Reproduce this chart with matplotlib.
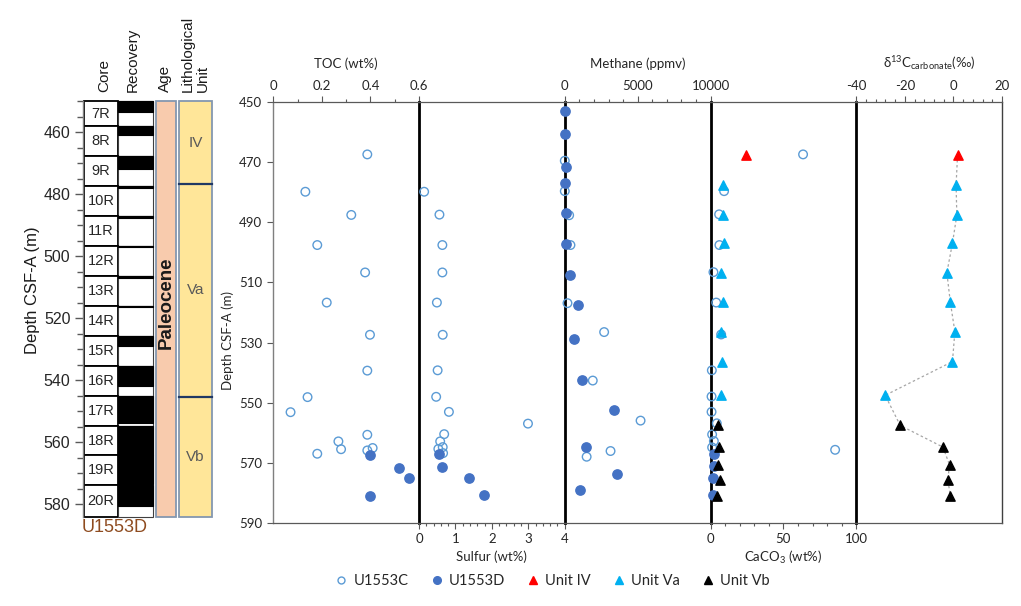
import matplotlib
matplotlib.use('Agg')
import matplotlib.pyplot as plt
from matplotlib.ticker import MultipleLocator, FixedLocator, FuncFormatter
from matplotlib.patches import Rectangle
from matplotlib.lines import Line2D

plt.rcParams['font.family'] = ['Lato', 'DejaVu Sans']
plt.rcParams['mathtext.fontset'] = 'custom'
plt.rcParams['mathtext.rm'] = 'Lato'
plt.rcParams['mathtext.it'] = 'Lato:italic'

# ---------------- data ----------------
# U1553C (open circles)
toc_c_depth = [467.5, 479.9, 487.6, 497.6, 506.7, 516.7, 527.4, 539.3, 548.1, 553.1,
               560.6, 562.8, 565.4, 565.0, 565.8, 566.9]
toc_c = [0.387, 0.132, 0.321, 0.181, 0.378, 0.22, 0.398, 0.387, 0.141, 0.071,
         0.387, 0.268, 0.279, 0.409, 0.387, 0.181]

sulfur_c_depth = [479.9, 487.5, 497.6, 506.7, 516.7, 527.4, 539.2, 548.0, 553.0, 556.9,
                  560.4, 562.8, 564.7, 565.3, 566.7]
sulfur_c = [0.14, 0.56, 0.64, 0.64, 0.49, 0.65, 0.51, 0.47, 0.82, 2.99,
            0.69, 0.58, 0.65, 0.53, 0.66]

methane_c_depth = [469.6, 479.7, 487.7, 497.6, 516.9, 526.5, 542.6, 555.9, 566.0, 567.9]
methane_c = [0, 0, 300, 390, 185, 2700, 1920, 5200, 3140, 1500]

caco3_c_depth = [467.5, 479.7, 487.4, 497.6, 506.6, 516.7, 527.3, 539.2, 547.9, 553.0,
                 556.8, 560.5, 562.7, 564.8, 565.6]
caco3_c = [63.5, 9.3, 5.9, 6.1, 2.0, 3.9, 7.3, 0.9, 0.7, 0.7,
           4.3, 1.1, 2.3, 1.1, 85.5]

# U1553D (filled circles)
toc_d_depth = [567.2, 571.8, 575.1, 580.9]
toc_d = [0.398, 0.518, 0.557, 0.398]

sulfur_d_depth = [566.9, 571.4, 575.1, 580.6]
sulfur_d = [0.56, 0.62, 1.38, 1.79]

methane_d_depth = [453.1, 460.6, 471.7, 477.1, 486.8, 497.2, 507.5, 517.4, 528.7, 542.5,
                   552.4, 564.8, 573.6, 579.0]
methane_d = [0, 0, 50, 0, 115, 70, 390, 880, 600, 1180, 3350, 1430, 3600, 1020]

caco3_d_depth = [566.9, 571.1, 574.9, 580.6]
caco3_d = [2.7, 2.3, 2.0, 1.6]

# carbonate samples coloured by lithological unit
carb_depth = [467.7, 477.7, 487.7, 497.0, 506.8, 516.4, 526.4, 536.3, 547.5,
              557.5, 564.7, 570.6, 575.5, 580.8]
carb_unit = ['IV', 'Va', 'Va', 'Va', 'Va', 'Va', 'Va', 'Va', 'Va',
             'Vb', 'Vb', 'Vb', 'Vb', 'Vb']
carb_caco3 = [24.5, 8.6, 8.6, 9.1, 7.5, 8.6, 7.5, 7.9, 7.5, 5.0, 6.1, 4.8, 6.3, 4.5]
carb_d13c = [1.7, 1.1, 1.4, -0.4, -2.7, -1.3, 0.6, -0.4, -28.1, -21.9, -4.3, -1.6, -2.3, -1.3]

# core log
core_names = ['7R', '8R', '9R', '10R', '11R', '12R', '13R', '14R', '15R', '16R',
              '17R', '18R', '19R', '20R']
core_tops = [450.0, 458.1, 467.75, 477.4, 487.05, 496.7, 506.35, 516.0, 525.65, 535.3,
             544.95, 554.6, 564.25, 573.9]
core_bottoms = core_tops[1:] + [584.0]
recovered_bottom = [453.6, 460.9, 471.9, 478.1, 487.7, 497.0, 506.9, 516.5, 528.9, 542.0,
                    553.8, 564.25, 573.3, 580.5]

lith_units = ['IV', 'Va', 'Vb']
lith_tops = [450.0, 476.7, 545.3]
lith_bottoms = [476.7, 545.3, 584.0]
age_label = 'Paleocene'
site_label = 'U1553D'

unit_colors = {'IV': '#FF0000', 'Va': '#00B0F0', 'Vb': '#000000'}
open_col = '#5B9BD5'
fill_col = '#4472C4'
txt_col = '#262626'

# ---------------- figure ----------------
W_PX, H_PX = 1021, 606
fig = plt.figure(figsize=(W_PX / 100, H_PX / 100), dpi=100)


def fx(px):
    return px / W_PX


def fy(py):
    return 1 - py / H_PX


left_px, right_px, top_px, bot_px = 273.3, 1002.0, 101.7, 523.3
pw = (right_px - left_px) / 5

axes = []
for i in range(5):
    ax = fig.add_axes([fx(left_px + i * pw), fy(bot_px), pw / W_PX, (bot_px - top_px) / H_PX],
                      sharey=axes[0] if axes else None)
    ax.set_facecolor('none')
    axes.append(ax)

ax_toc, ax_s, ax_m, ax_c, ax_d = axes

for i, ax in enumerate(axes):
    for side in ('top', 'bottom'):
        ax.spines[side].set_color('#595959')
        ax.spines[side].set_linewidth(0.9)
    ax.spines['left'].set_visible(False)
    if i < 4:
        ax.spines['right'].set_color('black')
        ax.spines['right'].set_linewidth(2.0)
    else:
        ax.spines['right'].set_color('#404040')
        ax.spines['right'].set_linewidth(1.0)
    ax.tick_params(axis='y', left=False, labelleft=False, right=False)
    ax.tick_params(axis='x', which='major', length=4, width=0.8, color='#595959',
                   labelsize=9.5, labelcolor=txt_col, pad=3)
    ax.tick_params(axis='x', which='minor', length=2.5, width=0.8, color='#595959')

ax_toc.set_ylim(590, 450)
ax_toc.spines['left'].set_visible(True)
ax_toc.spines['left'].set_color('#7F7F7F')
ax_toc.spines['left'].set_linewidth(1.0)
ax_toc.yaxis.set_major_locator(FixedLocator(list(range(450, 591, 20))))
ax_toc.tick_params(axis='y', left=True, labelleft=True, length=4, width=0.8,
                   color='#595959', labelsize=9.5, labelcolor=txt_col, pad=4)

gfmt = FuncFormatter(lambda v, p: '%g' % v)

# TOC (top)
ax_toc.set_xlim(0, 0.6)
ax_toc.xaxis.tick_top()
ax_toc.xaxis.set_major_locator(FixedLocator([0, 0.2, 0.4, 0.6]))
ax_toc.xaxis.set_minor_locator(MultipleLocator(0.1))
ax_toc.xaxis.set_major_formatter(gfmt)
# Sulfur (bottom)
ax_s.set_xlim(0, 4)
ax_s.xaxis.tick_bottom()
ax_s.xaxis.set_major_locator(MultipleLocator(1))
ax_s.xaxis.set_minor_locator(MultipleLocator(0.2))
ax_s.xaxis.set_major_formatter(gfmt)
# Methane (top)
ax_m.set_xlim(0, 10000)
ax_m.xaxis.tick_top()
ax_m.xaxis.set_major_locator(MultipleLocator(5000))
ax_m.xaxis.set_minor_locator(MultipleLocator(1000))
ax_m.xaxis.set_major_formatter(gfmt)
# CaCO3 (bottom)
ax_c.set_xlim(0, 100)
ax_c.xaxis.tick_bottom()
ax_c.xaxis.set_major_locator(MultipleLocator(50))
ax_c.xaxis.set_minor_locator(MultipleLocator(10))
ax_c.xaxis.set_major_formatter(gfmt)
# d13C (top)
ax_d.set_xlim(-40, 20)
ax_d.xaxis.tick_top()
ax_d.xaxis.set_major_locator(MultipleLocator(20))
ax_d.xaxis.set_minor_locator(MultipleLocator(4))
ax_d.xaxis.set_major_formatter(gfmt)

# titles
ttl_kw = dict(ha='center', va='center', fontsize=9.5, color=txt_col)
fig.text(fx(left_px + 0.5 * pw), fy(64), 'TOC (wt%)', **ttl_kw)
fig.text(fx(left_px + 2.5 * pw), fy(64), 'Methane (ppmv)', **ttl_kw)
fig.text(fx(left_px + 4.5 * pw), fy(63),
         'δ$^{13}$C$_{\\mathrm{carbonate}}$(‰)', **ttl_kw)
fig.text(fx(left_px + 1.5 * pw), fy(557), 'Sulfur (wt%)', **ttl_kw)
fig.text(fx(left_px + 3.5 * pw), fy(557), 'CaCO$_3$ (wt%)', **ttl_kw)
fig.text(fx(228), fy(340), 'Depth CSF-A (m)', rotation=90, **ttl_kw)

# data marks
ok = dict(s=38, marker='o', facecolors='none', edgecolors=open_col, linewidths=1.0,
          clip_on=False, zorder=3)
fk = dict(s=45, marker='o', color=fill_col, edgecolors=fill_col, clip_on=False, zorder=4)

ax_toc.scatter(toc_c, toc_c_depth, **ok)
ax_toc.scatter(toc_d, toc_d_depth, **fk)
ax_s.scatter(sulfur_c, sulfur_c_depth, **ok)
ax_s.scatter(sulfur_d, sulfur_d_depth, **fk)
ax_m.scatter(methane_c, methane_c_depth, **ok)
ax_m.scatter(methane_d, methane_d_depth, **fk)
ax_c.scatter(caco3_c, caco3_c_depth, **ok)
ax_c.scatter(caco3_d, caco3_d_depth, **fk)

ax_d.plot(carb_d13c, carb_depth, ls=(0, (2, 2)), color='#A6A6A6', lw=0.9, zorder=2)
for u in ['IV', 'Va', 'Vb']:
    idx = [k for k, uu in enumerate(carb_unit) if uu == u]
    ax_c.scatter([carb_caco3[k] for k in idx], [carb_depth[k] for k in idx], s=45, marker='^',
                 color=unit_colors[u], clip_on=False, zorder=5)
    ax_d.scatter([carb_d13c[k] for k in idx], [carb_depth[k] for k in idx], s=45, marker='^',
                 color=unit_colors[u], clip_on=False, zorder=5)

# legend
handles = [
    Line2D([], [], ls='none', marker='o', ms=5, mfc='none', mec=open_col, mew=1.0),
    Line2D([], [], ls='none', marker='o', ms=5.5, mfc=fill_col, mec=fill_col),
    Line2D([], [], ls='none', marker='^', ms=6, mfc=unit_colors['IV'], mec=unit_colors['IV']),
    Line2D([], [], ls='none', marker='^', ms=6, mfc=unit_colors['Va'], mec=unit_colors['Va']),
    Line2D([], [], ls='none', marker='^', ms=6, mfc=unit_colors['Vb'], mec=unit_colors['Vb']),
]
labels = ['U1553C', 'U1553D', 'Unit IV', 'Unit Va', 'Unit Vb']
fig.legend(handles, labels, loc='center', bbox_to_anchor=(fx(552), fy(581)), ncol=5,
           frameon=False, fontsize=10.5, handletextpad=0.35, columnspacing=1.4,
           handlelength=1.0, labelcolor=txt_col)

# ---------------- core log ----------------
log_l, log_r, log_t, log_b = 83.0, 213.0, 101.3, 516.7
axL = fig.add_axes([fx(log_l), fy(log_b), (log_r - log_l) / W_PX, (log_b - log_t) / H_PX])
axL.set_xlim(0, log_r - log_l)
axL.set_ylim(584.0, 450.0)
axL.set_facecolor('none')
for side in ('top', 'bottom', 'right'):
    axL.spines[side].set_visible(False)
axL.spines['left'].set_color('#7F7F7F')
axL.spines['left'].set_linewidth(1.0)
axL.set_xticks([])
axL.yaxis.set_major_locator(FixedLocator(list(range(460, 581, 20))))
axL.yaxis.set_minor_locator(MultipleLocator(5))
arial = ['Liberation Sans', 'DejaVu Sans']
axL.tick_params(axis='y', which='major', length=6, width=1.0, color='#595959', pad=3,
                labelsize=11.5, labelcolor=txt_col)
axL.tick_params(axis='y', which='minor', length=4, width=1.0, color='#595959')
for lab in axL.get_yticklabels():
    lab.set_family(arial)

core_x0, core_w = 1.0, 34.0
rec_x0, rec_w = 35.0, 35.0
age_x0, age_w = 73.0, 20.0
lith_x0, lith_w = 96.0, 33.0

for name, t, b, rb in zip(core_names, core_tops, core_bottoms, recovered_bottom):
    axL.add_patch(Rectangle((core_x0, t), core_w, b - t, fc='white', ec='black', lw=1.3,
                            clip_on=False, zorder=2))
    axL.text(core_x0 + core_w / 2, (t + b) / 2, name, ha='center', va='center',
             fontsize=10.5, family=arial, color=txt_col, zorder=3)
    axL.add_patch(Rectangle((rec_x0, t), rec_w, b - t, fc='white', ec='#404040', lw=0.8,
                            clip_on=False, zorder=2))
    axL.add_patch(Rectangle((rec_x0, t), rec_w, rb - t, fc='black', ec='black', lw=0.8,
                            clip_on=False, zorder=3))

axL.add_patch(Rectangle((age_x0, core_tops[0]), age_w, core_bottoms[-1] - core_tops[0],
                        fc='#F8CBAD', ec='#8497B0', lw=1.3, clip_on=False, zorder=2))
axL.text(age_x0 + age_w / 2, 515, age_label, rotation=90, ha='center', va='center',
         fontsize=13.5, fontweight='bold', family=arial, color='#1a1a1a', zorder=3)

for u, t, b in zip(lith_units, lith_tops, lith_bottoms):
    axL.add_patch(Rectangle((lith_x0, t), lith_w, b - t, fc='#FFE699', ec='#8497B0', lw=1.3,
                            clip_on=False, zorder=2))
    axL.text(lith_x0 + lith_w / 2, (t + b) / 2, u, ha='center', va='center', fontsize=11,
             family=arial, color='#595959', zorder=3)
for t in lith_tops[1:]:
    axL.plot([lith_x0, lith_x0 + lith_w], [t, t], color='#203864', lw=1.6, zorder=4,
             clip_on=False)

hdr_kw = dict(rotation=90, ha='center', va='bottom', fontsize=11, family=arial, color='#1a1a1a')
fig.text(fx(104), fy(92), 'Core', **hdr_kw)
fig.text(fx(133), fy(92), 'Recovery', **hdr_kw)
fig.text(fx(165), fy(92), 'Age', **hdr_kw)
fig.text(fx(188), fy(92), 'Lithological', **hdr_kw)
fig.text(fx(203), fy(92), 'Unit', **hdr_kw)

fig.text(fx(115), fy(527), site_label, ha='center', va='center', fontsize=13,
         family=arial, color='#8E4B1F')
fig.text(fx(32), fy(290), 'Depth CSF-A (m)', rotation=90, ha='center', va='center',
         fontsize=12, family=arial, color='#1a1a1a')

fig.savefig('out.png', dpi=100)
